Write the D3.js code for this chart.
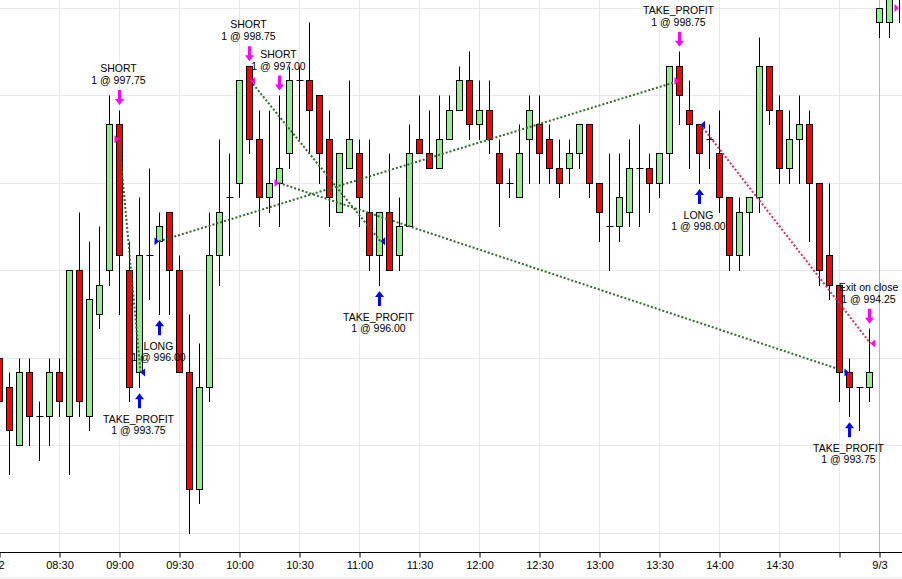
<!DOCTYPE html>
<html><head><meta charset="utf-8">
<script src="https://cdn.jsdelivr.net/npm/d3@7"></script>
<style>
body{margin:0;background:#fff;overflow:hidden;}
svg{display:block;}
text{font-family:"Liberation Sans",Arial,sans-serif;fill:#000;}
</style>
</head><body><div id="chart"></div>
<script>
// ---- bar data (5-minute bars) ----
const times = ["08:00","08:05","08:10","08:15","08:20","08:25","08:30","08:35","08:40","08:45","08:50","08:55",
"09:00","09:05","09:10","09:15","09:20","09:25","09:30","09:35","09:40","09:45","09:50","09:55",
"10:00","10:05","10:10","10:15","10:20","10:25","10:30","10:35","10:40","10:45","10:50","10:55",
"11:00","11:05","11:10","11:15","11:20","11:25","11:30","11:35","11:40","11:45","11:50","11:55",
"12:00","12:05","12:10","12:15","12:20","12:25","12:30","12:35","12:40","12:45","12:50","12:55",
"13:00","13:05","13:10","13:15","13:20","13:25","13:30","13:35","13:40","13:45","13:50","13:55",
"14:00","14:05","14:10","14:15","14:20","14:25","14:30","14:35","14:40","14:45","14:50","14:55",
"15:00","15:05","15:10","15:15","15:35","15:40","15:45"];
const opens = [994.0,993.5,992.5,993.75,993.0,993.0,993.75,993.0,995.5,993.0,994.75,995.5,
998.0,995.5,993.75,995.75,996.0,996.5,995.5,993.75,991.75,993.5,995.75,996.75,
997.0,999.0,997.75,996.75,997.0,997.5,998.75,998.75,998.5,997.75,996.5,997.25,
997.5,996.5,995.75,996.5,995.75,996.25,997.75,997.5,997.25,997.75,998.25,998.75,
998.0,998.25,997.5,997.0,996.75,997.75,998.0,997.75,997.25,997.25,997.5,998.0,
997.0,996.25,996.25,996.5,997.25,997.25,997.0,997.5,999.0,998.25,998.0,997.75,
997.5,996.75,995.75,996.5,996.75,999.0,998.25,997.25,997.75,998.0,997.0,995.75,
995.25,993.75,993.5,993.5,999.75,999.75,1000.5];
const highs = [994.0,993.75,994.0,994.0,993.25,994.0,994.0,995.5,996.5,996.0,996.25,998.5,
998.25,996.0,996.75,997.25,996.5,996.5,995.75,994.75,994.25,996.5,997.75,997.5,
998.75,999.0,998.25,998.25,998.5,999.0,999.0,999.75,998.5,998.25,997.5,998.75,
997.75,997.75,996.5,997.5,996.75,998.0,998.5,998.25,998.5,998.5,999.0,999.25,
998.75,998.75,997.75,997.25,998.0,998.5,998.5,998.0,997.75,997.75,998.0,998.0,
997.0,997.5,997.5,997.75,998.0,997.5,997.5,999.0,999.25,998.75,998.0,998.0,
998.25,996.75,996.75,996.75,999.5,999.0,998.5,998.25,998.5,998.25,997.0,997.0,
995.25,994.0,993.5,994.5,1000.0,1000.25,1000.75];
const lows = [993.25,992.0,992.5,992.5,992.25,992.5,993.0,992.0,993.0,992.75,994.5,995.25,
994.75,993.25,993.5,995.0,994.75,994.75,993.75,991.0,991.5,993.25,995.25,995.75,
996.75,997.5,996.25,996.5,996.25,997.25,997.75,997.5,997.0,996.25,996.5,997.25,
996.25,995.5,995.25,995.5,995.5,996.25,997.5,997.25,997.25,997.75,998.25,997.75,
997.75,997.5,996.25,996.75,996.75,997.0,997.0,997.0,996.75,997.0,997.25,996.75,
996.0,995.5,996.0,996.25,996.25,996.5,996.75,997.0,998.0,997.25,997.0,997.25,
996.5,995.5,995.5,995.75,996.5,998.0,997.0,997.0,997.0,996.0,995.25,995.0,
993.25,993.0,992.75,993.25,999.5,999.5,999.75];
const closes = [993.25,992.75,993.75,993.0,993.0,993.75,993.25,995.5,993.25,995.0,995.25,998.0,
995.75,993.5,995.75,995.75,996.25,995.5,993.75,991.75,993.5,995.75,996.5,996.75,
998.75,997.75,996.75,997.0,997.25,998.75,998.75,998.25,997.5,996.75,997.5,997.75,
996.75,995.75,996.5,995.5,996.25,997.5,997.5,997.25,997.75,998.25,998.75,998.0,
998.25,997.75,997.0,997.0,997.5,998.25,997.5,997.25,997.0,997.5,998.0,997.0,
996.5,996.25,996.75,997.25,997.25,997.0,997.5,999.0,998.5,998.0,997.5,997.75,
996.75,995.75,996.5,996.75,999.0,998.25,997.25,997.75,998.0,997.0,995.5,995.25,
993.75,993.5,993.5,993.75,1000.0,1000.25,1000.25];

// ---- axes ----
const gridPrices = [991.0, 992.5, 994.0, 995.5, 997.0, 998.5, 1000.0];
const tickTimes  = ["08:00","08:30","09:00","09:30","10:00","10:30","11:00","11:30","12:00","12:30","13:00","13:30","14:00","14:30","15:00","15:35"];
const tickLabels = ["9/2","08:30","09:00","09:30","10:00","10:30","11:00","11:30","12:00","12:30","13:00","13:30","14:00","14:30","","9/3"];
const sessionStart = "15:35";

// ---- executions ----
const execTimes   = ["09:00","09:10","09:20","10:05","11:10","10:20","13:40","13:50","15:15","15:05","15:45"];
const execActions = ["sell","buy","buy","sell","buy","sell","sell","buy","sell","buy","sell"];
const execNames   = ["SHORT","TAKE_PROFIT","LONG","SHORT","TAKE_PROFIT","SHORT","TAKE_PROFIT","LONG","Exit on close","TAKE_PROFIT",""];
const execPrices  = [997.75,993.75,996.00,998.75,996.00,997.00,998.75,998.00,994.25,993.75,1000.00];
const execQty     = [1,1,1,1,1,1,1,1,1,1,1];
const execSide    = ["L","R","L","R","R","L","L","R","R","L","L"];
// trades: entry execution index -> exit execution index
const tradeEntry = [0,2,3,5,7];
const tradeExit  = [1,6,4,9,8];

// ---- drawing ----
const W = 902, H = 579, axisY = 552;
const svg = d3.select("#chart").append("svg").attr("width", W).attr("height", H);
const x = d3.scalePoint().domain(times).range([-0.5, -0.5 + 10 * (times.length - 1)]);
const y = d3.scaleLinear().domain([991, 1000]).range([533, 8]);
const cy = v => Math.floor(v) + 0.5;

svg.append("defs").append("clipPath").attr("id", "plot")
  .append("rect").attr("x", 0).attr("y", 0).attr("width", W).attr("height", axisY);

const plot = svg.append("g").attr("clip-path", "url(#plot)");

// grid
plot.selectAll("line.hg").data(gridPrices).join("line")
  .attr("x1", 0).attr("x2", W).attr("y1", d => cy(y(d))).attr("y2", d => cy(y(d)))
  .attr("stroke", "#e8e8e8").attr("stroke-width", 1);
plot.selectAll("line.vg").data(tickTimes).join("line")
  .attr("x1", d => x(d)).attr("x2", d => x(d)).attr("y1", 0).attr("y2", axisY)
  .attr("stroke", d => d === sessionStart ? "#b8b8b8" : "#e8e8e8").attr("stroke-width", 1);

// candles
const bars = times.map((t, i) => ({t, o: opens[i], h: highs[i], l: lows[i], c: closes[i]}));
const cg = plot.append("g");
cg.selectAll("line.wick").data(bars).join("line")
  .attr("x1", d => x(d.t)).attr("x2", d => x(d.t))
  .attr("y1", d => cy(y(d.h))).attr("y2", d => cy(y(d.l)) + 0.5)
  .attr("stroke", "#000").attr("stroke-width", 1);
cg.selectAll("rect.body").data(bars.filter(d => d.o !== d.c)).join("rect")
  .attr("x", d => x(d.t) - 3).attr("width", 6)
  .attr("y", d => cy(y(Math.max(d.o, d.c))))
  .attr("height", d => cy(y(Math.min(d.o, d.c))) - cy(y(Math.max(d.o, d.c))))
  .attr("fill", d => d.c > d.o ? "#90ee90" : "#ff0000")
  .attr("stroke", "#000").attr("stroke-width", 1);
cg.selectAll("line.doji").data(bars.filter(d => d.o === d.c)).join("line")
  .attr("x1", d => x(d.t) - 3).attr("x2", d => x(d.t) + 4)
  .attr("y1", d => cy(y(d.o))).attr("y2", d => cy(y(d.o)))
  .attr("stroke", "#000").attr("stroke-width", 1);

// executions
const execs = execTimes.map((t, i) => {
  const b = bars[times.indexOf(t)];
  return {t, a: execActions[i], n: execNames[i], p: execPrices[i], q: execQty[i], s: execSide[i], b};
});
const tipX = e => x(e.t) + (e.s === "L" ? -0.5 : 1);

// trade lines
const tg = plot.append("g");
tradeEntry.forEach((ei, k) => {
  const a = execs[ei], b = execs[tradeExit[k]];
  const pnl = a.a === "buy" ? b.p - a.p : a.p - b.p;
  tg.append("line")
    .attr("x1", tipX(a)).attr("y1", y(a.p)).attr("x2", tipX(b)).attr("y2", y(b.p))
    .attr("stroke", pnl >= 0 ? "#2e6b2e" : "#d5305e")
    .attr("stroke-width", 2).attr("stroke-dasharray", "2,2");
});

const colorOf = e => e.a === "sell" ? "#ff00ff" : "#0000ff";
// triangles
plot.append("g").selectAll("path").data(execs).join("path")
  .attr("d", e => {
    const cx = x(e.t), py = y(e.p);
    return e.s === "L"
      ? `M${cx - 5},${py - 4}L${cx - 0.5},${py}L${cx - 5},${py + 4}Z`
      : `M${cx + 5.5},${py - 4}L${cx + 1},${py}L${cx + 5.5},${py + 4}Z`;
  })
  .attr("fill", colorOf);

// arrows
plot.append("g").selectAll("path").data(execs).join("path")
  .attr("d", e => {
    const cx = x(e.t);
    if (e.a === "sell") {
      const tip = y(e.b.h) - 5, top = tip - 15;
      return `M${cx - 1.5},${top}L${cx + 1.5},${top}L${cx + 1.5},${tip - 6}L${cx + 4.5},${tip - 6}L${cx},${tip}L${cx - 4.5},${tip - 6}L${cx - 1.5},${tip - 6}Z`;
    } else {
      const tip = y(e.b.l) + 6, bot = tip + 15;
      return `M${cx - 1.5},${bot}L${cx + 1.5},${bot}L${cx + 1.5},${tip + 6}L${cx + 4.5},${tip + 6}L${cx},${tip}L${cx - 4.5},${tip + 6}L${cx - 1.5},${tip + 6}Z`;
    }
  })
  .attr("fill", colorOf);

// labels
const lg = plot.append("g").attr("font-size", "10.5px").attr("text-anchor", "middle");
execs.filter(e => e.n).forEach(e => {
  const cx = x(e.t) - 1;
  const y1 = e.a === "sell" ? y(e.b.h) - 38 : y(e.b.l) + 36;
  const y2 = e.a === "sell" ? y(e.b.h) - 26 : y(e.b.l) + 47;
  lg.append("text").attr("x", cx).attr("y", y1).text(e.n);
  lg.append("text").attr("x", cx).attr("y", y2).text(`${e.q} @ ${e.p.toFixed(2)}`);
});

// time axis
const axis = d3.axisBottom(x).tickValues(tickTimes)
  .tickFormat((d, i) => tickLabels[i]).tickSize(5).tickPadding(4);
const ag = svg.append("g").attr("transform", `translate(0,${axisY + 0.5})`).call(axis);
ag.select(".domain").remove();
ag.selectAll("text").attr("font-size", "11px").attr("font-family", "Liberation Sans, Arial, sans-serif").attr("fill", "#000");
// the first (date) label sits partly beyond the left edge, as in the reference
ag.selectAll("text").filter((d, i) => i === 0).attr("dx", -3);
ag.selectAll("line").attr("stroke", "#000");
svg.append("line").attr("x1", 0).attr("x2", W).attr("y1", axisY + 0.5).attr("y2", axisY + 0.5)
  .attr("stroke", "#000").attr("stroke-width", 1);
svg.append("line").attr("x1", 0).attr("x2", W).attr("y1", H - 1.5).attr("y2", H - 1.5)
  .attr("stroke", "#ececec").attr("stroke-width", 1);
</script>
</body></html>
